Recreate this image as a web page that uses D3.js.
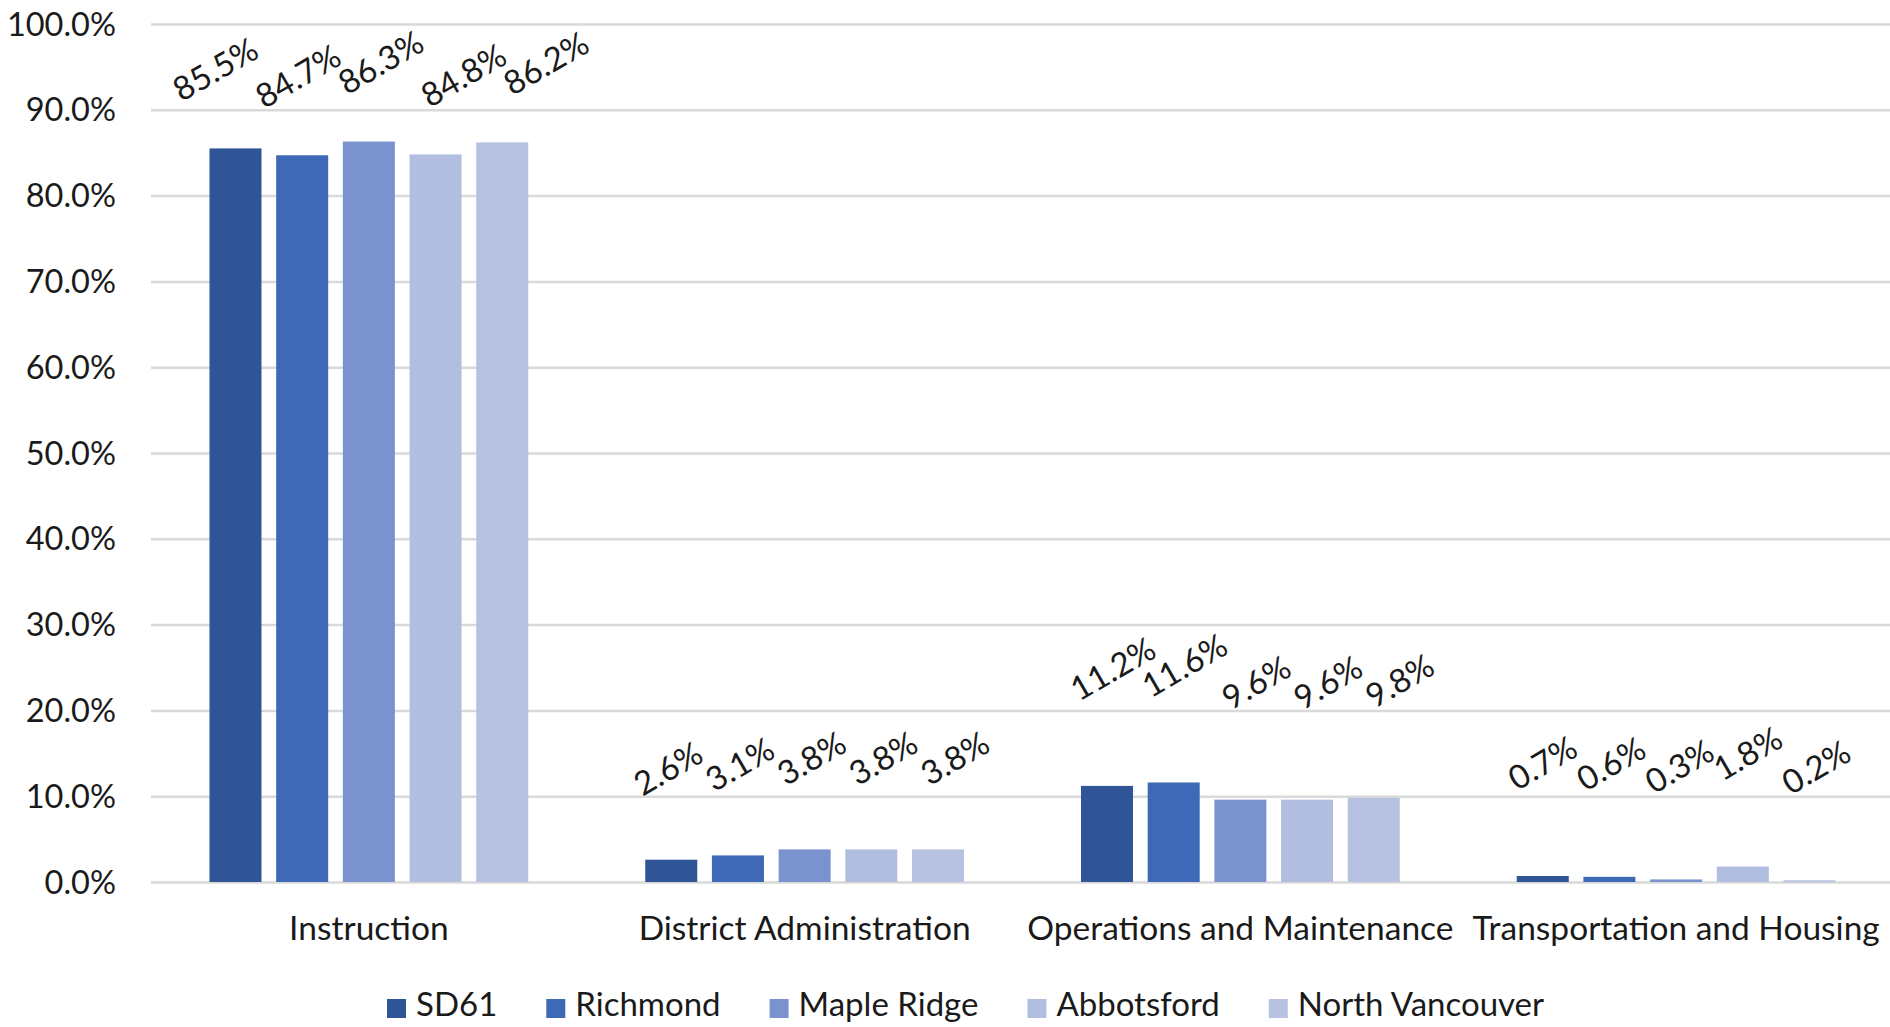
<!DOCTYPE html>
<html>
<head>
<meta charset="utf-8">
<script src="https://cdn.jsdelivr.net/npm/d3@7"></script>
<style>
  body { margin: 0; background: #ffffff; }
  svg { display: block; }
  text { font-family: Lato, "Open Sans", sans-serif; fill: #1a1a1a; }
</style>
</head>
<body>
<svg id="chart" width="1890" height="1027"></svg>
<script>
// Spending share by function, per district (% of operating budget)
const categories = ["Instruction", "District Administration", "Operations and Maintenance", "Transportation and Housing"];
const seriesNames = ["SD61", "Richmond", "Maple Ridge", "Abbotsford", "North Vancouver"];
const sd61 = [85.5, 2.6, 11.2, 0.7];
const richmond = [84.7, 3.1, 11.6, 0.6];
const mapleRidge = [86.3, 3.8, 9.6, 0.3];
const abbotsford = [84.8, 3.8, 9.6, 1.8];
const northVancouver = [86.2, 3.8, 9.8, 0.2];
const yTicks = [0, 10, 20, 30, 40, 50, 60, 70, 80, 90, 100];

// Styling and layout
const colors = ["#2F5597", "#3D69B7", "#7A92CE", "#B2BEE0", "#B7C2E2"];
const tickFont = 32.5;
const catFont = 33.5;
const labelFont = 33;
const legendFont = 33;
const labelAngle = -30;
// value labels: lift above bar top, horizontal offset and fan-out per category
const labelLift = [79, 91, 117, 113];
const labelShift = [-20, -3, 6, 0];
const labelSpread = [16, 5, 5, 1.7];

const seriesValues = [sd61, richmond, mapleRidge, abbotsford, northVancouver];
const rows = [];
categories.forEach((c, ci) => {
  seriesNames.forEach((s, si) => rows.push({ category: c, ci, series: s, si, value: seriesValues[si][ci] }));
});

const svg = d3.select("#chart");
const plot = { left: 151, right: 1894, top: 24, bottom: 882 };

const x0 = d3.scaleBand().domain(categories).range([plot.left, plot.right]).padding(0);
const x1 = d3.scaleBand().domain(seriesNames).range([0, x0.bandwidth()])
  .paddingInner(0.22).paddingOuter(0.877);
const y = d3.scaleLinear().domain([0, 100]).range([plot.bottom, plot.top]);
const color = d3.scaleOrdinal().domain(seriesNames).range(colors);

// Horizontal gridlines with percentage labels
const yAxis = d3.axisLeft(y).tickValues(yTicks)
  .tickSize(-(1890 - plot.left))
  .tickFormat(d => d3.format(".1f")(d) + "%");
const gy = svg.append("g").attr("transform", `translate(${plot.left},0)`).call(yAxis);
gy.select(".domain").remove();
gy.selectAll(".tick line").attr("stroke", "#D9D9D9").attr("stroke-width", 2.5);
gy.selectAll(".tick text")
  .attr("x", -35)
  .attr("dy", "0.34em")
  .style("font-size", tickFont + "px")
  .style("font-family", "Lato, 'Open Sans', sans-serif")
  .attr("fill", "#1a1a1a");

// Category labels
const xAxis = d3.axisBottom(x0).tickSize(0).tickPadding(0);
const gx = svg.append("g").attr("transform", `translate(0,${plot.bottom})`).call(xAxis);
gx.select(".domain").remove();
gx.selectAll(".tick text")
  .attr("y", 58)
  .attr("dy", 0)
  .style("font-size", catFont + "px")
  .style("font-family", "Lato, 'Open Sans', sans-serif")
  .attr("fill", "#1a1a1a");

// Bars
svg.append("g").selectAll("rect").data(rows).join("rect")
  .attr("x", d => x0(d.category) + x1(d.series))
  .attr("y", d => y(d.value))
  .attr("width", x1.bandwidth())
  .attr("height", d => y(0) - y(d.value))
  .attr("fill", d => color(d.series));

// Rotated value labels
svg.append("g").selectAll("text").data(rows).join("text")
  .attr("transform", d => {
    const cx = x0(d.category) + x1(d.series) + x1.bandwidth() / 2
      + labelShift[d.ci] + labelSpread[d.ci] * d.si;
    const cy = y(d.value) - labelLift[d.ci];
    return `translate(${cx},${cy}) rotate(${labelAngle})`;
  })
  .attr("text-anchor", "middle")
  .attr("dy", "0.35em")
  .style("font-size", labelFont + "px")
  .text(d => d3.format(".1f")(d.value) + "%");

// Legend
const legend = svg.append("g").attr("transform", "translate(387,1006)");
let lx = 0;
seriesNames.forEach((s, i) => {
  const item = legend.append("g").attr("transform", `translate(${lx},0)`);
  item.append("rect").attr("x", 0).attr("y", -7).attr("width", 19).attr("height", 19).attr("fill", colors[i]);
  const t = item.append("text").attr("x", 29).attr("dy", "0.3em").style("font-size", legendFont + "px").text(s);
  lx += 29 + t.node().getComputedTextLength() + 49;
});
</script>
</body>
</html>
